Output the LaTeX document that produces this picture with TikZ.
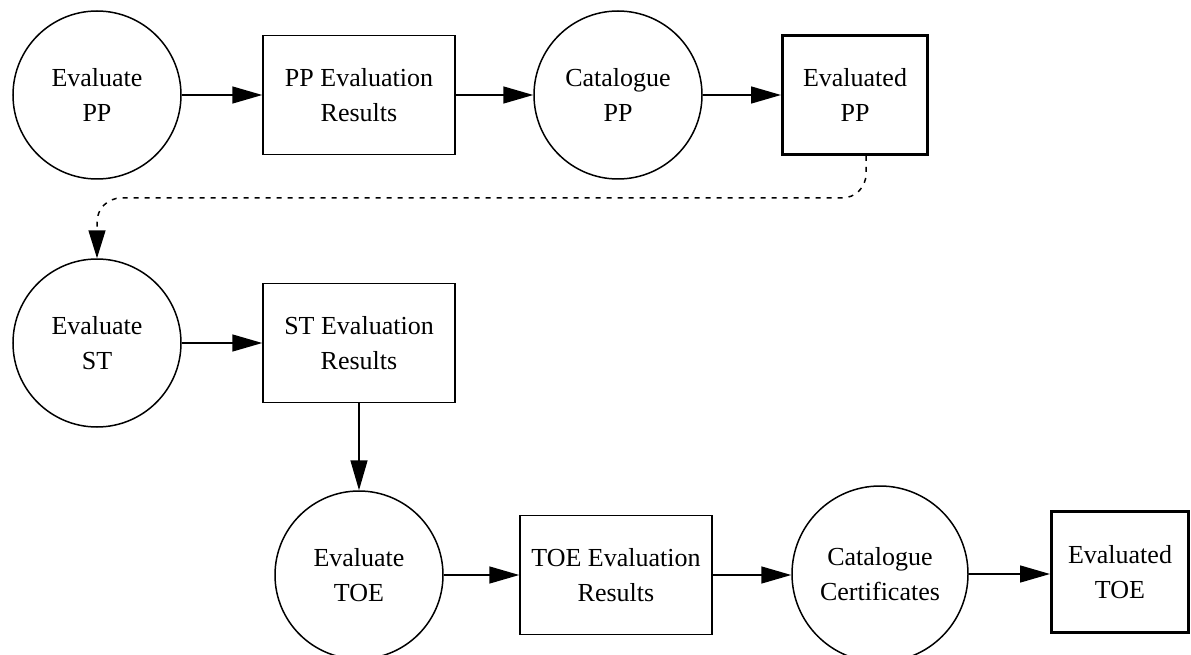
\documentclass[tikz,border=0pt]{standalone}
\usepackage{fontspec}
\setmainfont{Liberation Serif}
\usetikzlibrary{arrows.meta}
\tikzset{
	proc/.style={draw,circle,line width=1.5pt,minimum size=168pt,inner sep=0pt,align=center},
	store/.style={draw,rectangle,line width=1.5pt,minimum width=192pt,minimum height=119pt,inner sep=0pt,align=center},
	final/.style={draw,rectangle,line width=3pt,minimum width=145pt,minimum height=119pt,inner sep=0pt,align=center},
	flow/.style={line width=1.5pt,-{Triangle[length=30pt,width=17pt]}},
	dotflow/.style={line width=1.5pt,dash pattern=on 5pt off 6pt,rounded corners=24pt,-{Triangle[length=28pt,width=17pt]}}
}
\begin{document}
\begin{tikzpicture} [x=1pt,y=-1pt,font=\fontsize{26pt}{35pt}\selectfont]
		\useasboundingbox (0,0) rectangle (1191,655);
		% first row
		\node [proc] (evalpp) at (97,95) {Evaluate\\PP};
		\node [store] (ppres) at (359,95) {PP Evaluation\\Results};
		\node [proc] (catpp) at (618,95) {Catalogue\\PP};
		\node [final] (evpp) at (855,95) {Evaluated\\PP};
		% second row
		\node [proc] (evalst) at (97,343) {Evaluate\\ST};
		\node [store] (stres) at (359,343) {ST Evaluation\\Results};
		% third row
		\node [proc] (evaltoe) at (359,575) {Evaluate\\TOE};
		\node [store] (toeres) at (616,575) {TOE Evaluation\\Results};
		\node [proc,minimum size=176pt] (catcert) at (880,574) {Catalogue\\Certificates};
		\node [final,minimum width=137pt,minimum height=121pt] (evtoe) at (1120,572) {Evaluated\\TOE};
		% connectors
		\draw [flow] (evalpp.east) -- (ppres.west);
		\draw [flow] (ppres.east) -- (catpp.west);
		\draw [flow] (catpp.east) -- (evpp.west);
		\coordinate (dr) at (866,198);
		\coordinate (dl) at (97,198);
		\draw [dotflow] ([xshift=11pt]evpp.south) -- (dr) -- (dl) -- (evalst.north);
		\draw [flow] (evalst.east) -- (stres.west);
		\draw [flow] (stres.south) -- (evaltoe.north);
		\draw [flow] (evaltoe.east) -- (toeres.west);
		\draw [flow] (toeres.east) -- (catcert.west |- toeres.east);
		\draw [flow] (catcert.east) -- (evtoe.west |- catcert.east);
	\end{tikzpicture}
\end{document}
